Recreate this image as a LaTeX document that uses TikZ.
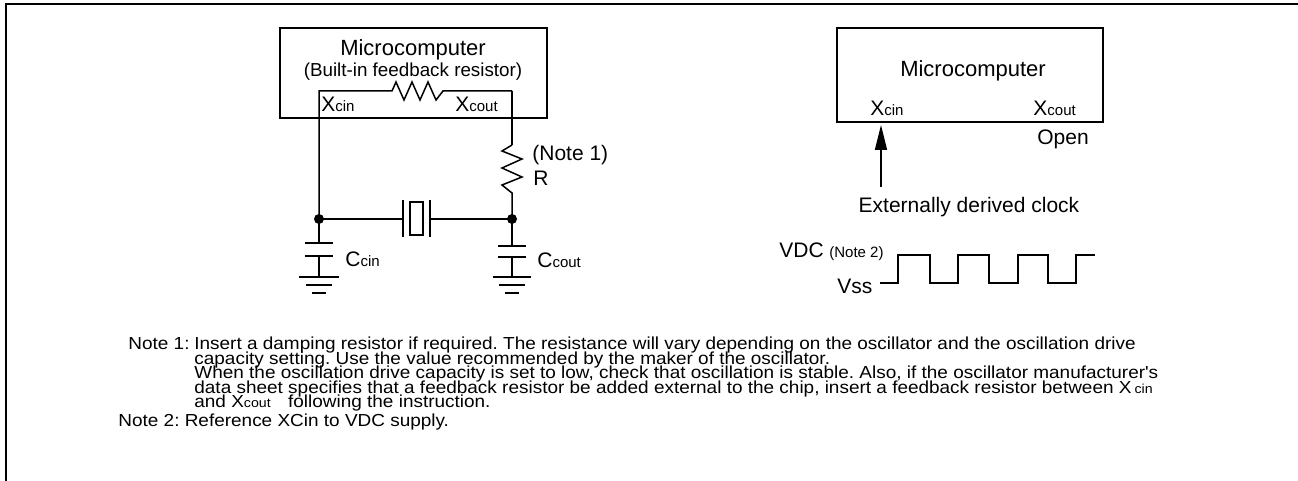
\documentclass[tikz,border=0pt]{standalone}
\usepackage{fontspec}
\setmainfont{Liberation Sans}
\newfontfamily\notefont[FakeStretch=1.09]{Liberation Sans}
\usetikzlibrary{arrows.meta}
\frenchspacing

\newcommand{\subtxt}[1]{{\fontsize{7.5}{8}\selectfont #1}}
\newcommand{\subnote}[1]{{\fontsize{6.5}{7}\selectfont #1}}

\tikzset{
  chip/.style={draw, line width=1.3pt, inner sep=0pt},
  wire/.style={line width=0.75pt},
  heavy/.style={line width=1.3pt},
  plate/.style={line width=1pt},
  lbl/.style={inner sep=0pt, font=\fontsize{10.5}{12}\selectfont},
  note/.style={inner sep=0pt, anchor=base west, font=\notefont\fontsize{8.7}{10}\selectfont},
}

\begin{document}
\begin{tikzpicture}[x=0.5pt,y=-0.5pt]
        \useasboundingbox (0,0) rectangle (1298,481);
        \draw[line width=1.25pt] (1298,4) -- (6,4) -- (6,481);

        \node[chip, minimum width=133.5pt, minimum height=45pt] (mcuL) at (413.5,73) {};
        \node[lbl, anchor=base, font=\fontsize{11}{13}\selectfont] (mcuLtxt) at (413,56) {Microcomputer};
        \node[lbl, anchor=base, font=\fontsize{9.4}{11}\selectfont] (fbtxt) at (413,77) {(Built-in feedback resistor)};
        \node[lbl, anchor=base west] (xinL) at (321,112) {X\subtxt{cin}};
        \node[lbl, anchor=base west] (xoutL) at (455,112) {X\subtxt{cout}};

        \coordinate (A) at (319,91);
        \coordinate (B) at (512,91);
        \coordinate (P) at (319,219);
        \coordinate (Q) at (512,219);
        \coordinate (Rtop) at (512,145);
        \coordinate (Rbot) at (512,193);

        \draw[wire] (P) -- (A) -- (392,91) -- (396,82) -- (404,100) -- (412,82) -- (420,100)
              -- (428,82) -- (436,100) -- (443,91) -- (B);
        \draw[heavy] (B) -- (Rtop);
        \draw[wire] (Rtop) -- (502,151) -- (522,159) -- (502,168) -- (522,177) -- (502,185) -- (Rbot) -- (Q);
        \node[lbl, anchor=base west] (note1) at (532,161) {(Note 1)};
        \node[lbl, anchor=base west] (rlbl) at (533,186) {R};

        \draw[wire] (P) -- (403,219);
        \draw[wire] (430,219) -- (Q);
        \draw[plate] (403,200) -- (403,237);
        \draw[plate] (430,200) -- (430,237);
        \draw[wire] (410,202) rectangle (423,235);
        \fill (P) circle (2.5pt);
        \fill (Q) circle (2.5pt);

        \draw[wire] (P) -- (319,243);
        \draw[plate] (305,243) -- (333,243);
        \draw[plate] (305,256) -- (333,256);
        \draw[wire] (319,256) -- (319,277);
        \draw[plate] (299,277) -- (339,277);
        \draw[plate] (306,285) -- (332,285);
        \draw[plate] (312,293) -- (326,293);
        \node[lbl, anchor=base west] (ccin) at (345,267) {C\subtxt{cin}};

        \draw[wire] (Q) -- (512,246);
        \draw[plate] (498,246) -- (526,246);
        \draw[plate] (498,257) -- (526,257);
        \draw[wire] (512,257) -- (512,277);
        \draw[plate] (493,277) -- (531,277);
        \draw[plate] (499,285) -- (525,285);
        \draw[plate] (505,293) -- (519,293);
        \node[lbl, anchor=base west] (ccout) at (537,268) {C\subtxt{cout}};

        \node[chip, minimum width=133pt, minimum height=47pt] (mcuR) at (970,75) {};
        \node[lbl, anchor=base, font=\fontsize{11}{13}\selectfont] (mcuRtxt) at (973,77) {Microcomputer};
        \node[lbl, anchor=base west] (xinR) at (870,116) {X\subtxt{cin}};
        \node[lbl, anchor=base west] (xoutR) at (1033,116) {X\subtxt{cout}};
        \node[lbl, anchor=base west] (open) at (1037,145) {Open};
        \coordinate (clk) at (881,187);
        \coordinate (pin) at (881,125);
        \draw[wire, -{Triangle[length=12.5pt,width=6pt]}] (clk) -- (pin);
        \node[lbl, anchor=base] (extclk) at (969,213) {Externally derived clock};

        \node[lbl, anchor=base west] (vdc) at (779,257) {VDC};
        \node[lbl, anchor=base west, font=\fontsize{7.5}{8}\selectfont] (note2) at (829,257) {(Note 2)};
        \node[lbl, anchor=base west] (vss) at (837,293) {Vss};
        \draw[wire] (880,283) -- (898,283) -- (898,255) -- (930,255) -- (930,283) -- (958,283)
              -- (958,255) -- (989,255) -- (989,283) -- (1018,283) -- (1018,255) -- (1048,255)
              -- (1048,283) -- (1076,283) -- (1076,255) -- (1095,255);

        \node[note] (n1) at (128,350) {Note 1:};
        \node[note] (n1a) at (194,350) {Insert a damping resistor if required. The resistance will vary depending on the oscillator and the oscillation drive};
        \node[note] (n1b) at (194,364.5) {capacity setting. Use the value recommended by the maker of the oscillator.};
        \node[note] (n1c) at (194,379) {When the oscillation drive capacity is set to low, check that oscillation is stable. Also, if the oscillator manufacturer's};
        \node[note] (n1d) at (194,393.5) {data sheet specifies that a feedback resistor be added external to the chip, insert a feedback resistor between X\,\subnote{cin}};
        \node[note] (n1e) at (194,408) {and X\subnote{cout}\quad following the instruction.};
        \node[note] (n2) at (118,426) {Note 2: Reference XCin to VDC supply.};
\end{tikzpicture}
\end{document}
